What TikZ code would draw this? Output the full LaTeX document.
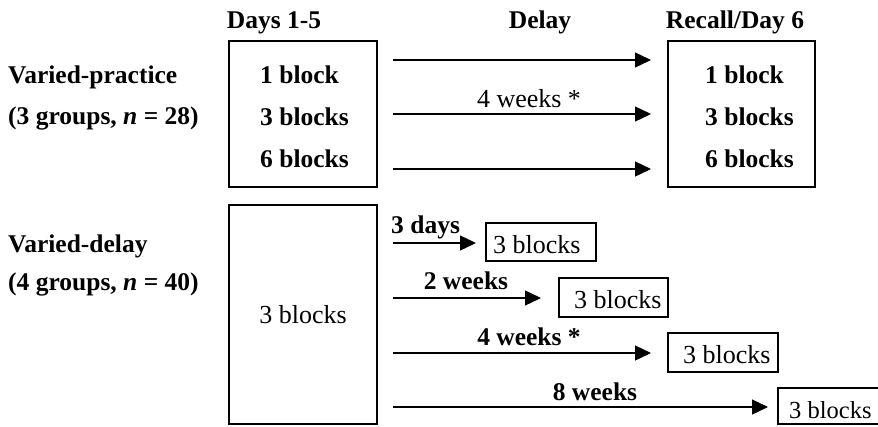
\documentclass[tikz,border=0pt]{standalone}
\usepackage{fontspec}
\setmainfont{Liberation Serif}
\usetikzlibrary{arrows.meta}
\tikzset{
  box/.style={draw, line width=1.3pt, inner sep=0pt},
  lbl/.style={font=\fontsize{25.5}{30}\selectfont\bfseries, inner sep=0pt, anchor=base},
  lblw/.style={lbl, anchor=base west},
  reg/.style={font=\fontsize{26}{30}\selectfont, inner sep=0pt, anchor=base},
  regw/.style={reg, anchor=base west},
  arr/.style={line width=1.3pt, -{Triangle[length=16pt,width=15pt]}}
}
\begin{document}
\begin{tikzpicture}[x=1pt,y=-1pt]
\useasboundingbox (0,0) rectangle (878,426);
% headers
\node[lbl] (h1) at (274,28) {Days 1-5};
\node[lbl] (h2) at (540,28) {Delay};
\node[lbl] (h3) at (735,28) {Recall/Day 6};
% row labels
\node[lblw] (vp1) at (8,83) {Varied-practice};
\node[lblw] (vp2) at (8,124) {(3 groups, \textit{n} = 28)};
\node[lblw] (vd1) at (8,252) {Varied-delay};
\node[lblw] (vd2) at (8,290) {(4 groups, \textit{n} = 40)};
% top boxes
\node[box, minimum width=148pt, minimum height=146pt] (L1) at (303,114) {};
\node[box, minimum width=147pt, minimum height=146pt] (R1) at (741.5,114) {};
\node[lblw] (l1a) at (260,83) {1 block};
\node[lblw] (l1b) at (260,125) {3 blocks};
\node[lblw] (l1c) at (260,167) {6 blocks};
\node[lblw] (r1a) at (705,83) {1 block};
\node[lblw] (r1b) at (705,125) {3 blocks};
\node[lblw] (r1c) at (705,167) {6 blocks};
% top arrows
\coordinate (ta1) at (393,60);  \coordinate (tb1) at (651,60);
\coordinate (ta2) at (393,114); \coordinate (tb2) at (651,114);
\coordinate (ta3) at (393,169); \coordinate (tb3) at (651,169);
\draw[arr] (ta1) -- (tb1);
\draw[arr] (ta2) -- (tb2);
\draw[arr] (ta3) -- (tb3);
\node[reg] (w4) at (529,107) {4 weeks *};
% bottom big box
\node[box, minimum width=148pt, minimum height=219pt] (L2) at (303,314.5) {};
\node[reg] (l2t) at (303,323) {3 blocks};
% bottom small boxes
\node[box, minimum width=110pt, minimum height=38pt] (B1) at (541,242) {};
\node[box, minimum width=109pt, minimum height=39pt] (B2) at (613.5,297.5) {};
\node[box, minimum width=110pt, minimum height=39pt] (B3) at (723,352.5) {};
\node[box, minimum width=112pt, minimum height=36pt] (B4) at (834,406) {};
\node[regw] (b1t) at (493,253) {3 blocks};
\node[regw] (b2t) at (574,308) {3 blocks};
\node[regw] (b3t) at (683,363) {3 blocks};
\node[regw, font=\fontsize{24.5}{29}\selectfont] (b4t) at (789,418) {3 blocks};
% bottom arrows
\coordinate (ba1) at (393,243); \coordinate (bb1) at (476,243);
\coordinate (ba2) at (393,298); \coordinate (bb2) at (541,298);
\coordinate (ba3) at (393,353); \coordinate (bb3) at (651,353);
\coordinate (ba4) at (393,407); \coordinate (bb4) at (768,407);
\draw[arr] (ba1) -- (bb1);
\draw[arr] (ba2) -- (bb2);
\draw[arr] (ba3) -- (bb3);
\draw[arr] (ba4) -- (bb4);
\node[lblw] (d3) at (391,233) {3 days};
\node[lbl] (d2) at (466,289) {2 weeks};
\node[lbl] (d4) at (529,345) {4 weeks *};
\node[lbl] (d8) at (595,400) {8 weeks};
\end{tikzpicture}
\end{document}
